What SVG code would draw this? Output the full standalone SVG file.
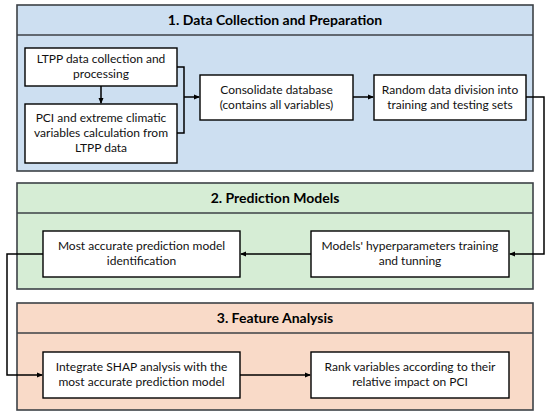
<svg xmlns="http://www.w3.org/2000/svg" width="550" height="418" viewBox="0 0 550 418">
<defs>
<marker id="ah" markerWidth="6" markerHeight="6" refX="5" refY="3" orient="auto" markerUnits="userSpaceOnUse">
<path d="M0,0.5 L6,3 L0,5.5 Z" fill="#000"/>
</marker>
<style>
.panel{stroke:#3c4146;stroke-width:1.6}
.hdr{fill:none;stroke:#3c4146;stroke-width:1.4}
.box{fill:#fff;stroke:#000;stroke-width:1.4}
.t{font-family:Lato,"Liberation Sans",sans-serif;font-size:12px;fill:#111;text-anchor:middle}
.h{font-family:Lato,"Liberation Sans",sans-serif;font-size:14px;font-weight:bold;fill:#000;text-anchor:middle}
.c{fill:none;stroke:#000;stroke-width:1.5}
</style>
</defs>
<rect width="550" height="418" fill="#fff"/>
<g id="panel1">
<rect class="panel" x="17" y="5" width="516" height="166" fill="#cddff1"/>
<line class="hdr" x1="17" y1="35" x2="533" y2="35"/>
<text class="h" x="275" y="25">1. Data Collection and Preparation</text>
</g>
<g id="panel2">
<rect class="panel" x="17" y="183" width="516" height="106" fill="#d6edd5"/>
<line class="hdr" x1="17" y1="213" x2="533" y2="213"/>
<text class="h" x="275" y="203">2. Prediction Models</text>
</g>
<g id="panel3">
<rect class="panel" x="17" y="303" width="516" height="107" fill="#f9dac8"/>
<line class="hdr" x1="17" y1="333" x2="533" y2="333"/>
<text class="h" x="275" y="323">3. Feature Analysis</text>
</g>
<g id="ltpp">
<rect class="box" x="25" y="48" width="152" height="38"/>
<text class="t" x="101" y="63">LTPP data collection and</text>
<text class="t" x="101" y="78">processing</text>
</g>
<g id="pci">
<rect class="box" x="25" y="104" width="152" height="59"/>
<text class="t" x="101" y="122">PCI and extreme climatic</text>
<text class="t" x="101" y="137">variables calculation from</text>
<text class="t" x="101" y="152">LTPP data</text>
</g>
<g id="consolidate">
<rect class="box" x="200" y="75" width="153" height="45"/>
<text class="t" x="276.5" y="94">Consolidate database</text>
<text class="t" x="276.5" y="109">(contains all variables)</text>
</g>
<g id="random">
<rect class="box" x="374" y="75" width="152" height="45"/>
<text class="t" x="450" y="94">Random data division into</text>
<text class="t" x="450" y="109">training and testing sets</text>
</g>
<g id="hyper">
<rect class="box" x="311" y="231" width="198" height="46"/>
<text class="t" x="410" y="250">Models' hyperparameters training</text>
<text class="t" x="410" y="265">and tunning</text>
</g>
<g id="most">
<rect class="box" x="43" y="231" width="197" height="46"/>
<text class="t" x="141.5" y="250">Most accurate prediction model</text>
<text class="t" x="141.5" y="265">identification</text>
</g>
<g id="integrate">
<rect class="box" x="43" y="352" width="197" height="46"/>
<text class="t" x="141.5" y="371">Integrate SHAP analysis with the</text>
<text class="t" x="141.5" y="386">most accurate prediction model</text>
</g>
<g id="rank">
<rect class="box" x="311" y="352" width="198" height="46"/>
<text class="t" x="410" y="371">Rank variables according to their</text>
<text class="t" x="410" y="386">relative impact on PCI</text>
</g>
<g id="connectors">
<line class="c" x1="101" y1="86" x2="101" y2="103" marker-end="url(#ah)"/>
<polyline class="c" points="177,67 184,67 184,133 177,133"/>
<line class="c" x1="184" y1="97" x2="199" y2="97" marker-end="url(#ah)"/>
<line class="c" x1="353" y1="97" x2="373" y2="97" marker-end="url(#ah)"/>
<polyline class="c" points="526,97 544,97 544,254 510,254" marker-end="url(#ah)"/>
<line class="c" x1="311" y1="254" x2="241" y2="254" marker-end="url(#ah)"/>
<polyline class="c" points="43,254 7,254 7,375 42,375" marker-end="url(#ah)"/>
<line class="c" x1="240" y1="375" x2="310" y2="375" marker-end="url(#ah)"/>
</g>
</svg>
